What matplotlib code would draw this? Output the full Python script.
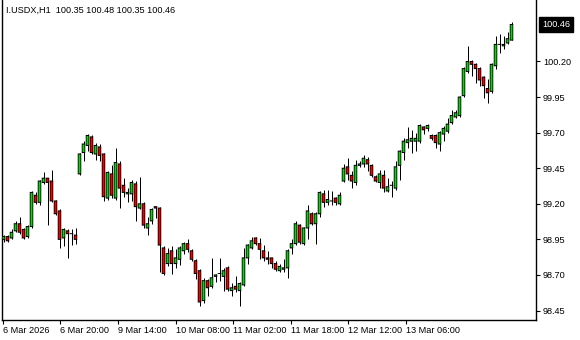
import matplotlib
matplotlib.use("Agg")
import matplotlib.pyplot as plt
import matplotlib.transforms as mtransforms
import numpy as np

plt.rcParams['font.family'] = ['Liberation Sans', 'DejaVu Sans']

# I.USDX H1 bars, oldest first (open, high, low, close)
opens = [98.95, 98.97, 98.96, 99.01, 99.06, 99.02, 98.97, 99.04, 99.26, 99.21,
         99.35, 99.38, 99.36, 99.22, 99.15, 98.96, 99.01, 98.99, 98.98, 99.41,
         99.56, 99.61, 99.67, 99.55, 99.60, 99.55, 99.24, 99.41, 99.24, 99.48,
         99.33, 99.27, 99.27, 99.34, 99.17, 99.20, 99.03, 99.08, 99.18, 99.17,
         98.89, 98.78, 98.87, 98.78, 98.81, 98.87, 98.92, 98.87, 98.80, 98.73,
         98.52, 98.66, 98.62, 98.69, 98.71, 98.69, 98.75, 98.59, 98.62, 98.59,
         98.63, 98.82, 98.89, 98.96, 98.92, 98.87, 98.82, 98.82, 98.78, 98.73,
         98.74, 98.75, 98.89, 98.92, 99.05, 98.92, 99.03, 99.13, 99.06, 99.13,
         99.27, 99.21, 99.22, 99.24, 99.20, 99.36, 99.46, 99.40, 99.35, 99.47,
         99.48, 99.51, 99.47, 99.39, 99.35, 99.40, 99.29, 99.33, 99.31, 99.47,
         99.56, 99.63, 99.64, 99.64, 99.64, 99.74, 99.73, 99.68, 99.68, 99.62,
         99.69, 99.71, 99.77, 99.81, 99.82, 99.96, 100.13, 100.20, 100.18, 100.15,
         100.09, 100.01, 99.99, 100.17, 100.32, 100.31, 100.33, 100.35]
highs = [98.98, 98.98, 99.02, 99.08, 99.11, 99.03, 99.05, 99.29, 99.28, 99.37,
         99.42, 99.38, 99.44, 99.23, 99.16, 99.03, 99.02, 99.02, 99.03, 99.56,
         99.64, 99.69, 99.68, 99.63, 99.62, 99.56, 99.43, 99.47, 99.59, 99.50,
         99.38, 99.31, 99.37, 99.36, 99.39, 99.21, 99.11, 99.17, 99.18, 99.18,
         98.90, 98.89, 98.90, 98.88, 98.90, 98.93, 98.95, 98.88, 98.81, 98.74,
         98.68, 98.67, 98.82, 98.71, 98.82, 98.75, 98.76, 98.64, 98.69, 98.65,
         98.89, 98.92, 98.97, 98.97, 98.96, 98.91, 98.87, 98.82, 98.80, 98.78,
         98.81, 98.88, 98.95, 99.08, 99.06, 99.04, 99.19, 99.14, 99.14, 99.29,
         99.30, 99.30, 99.29, 99.25, 99.28, 99.48, 99.52, 99.43, 99.51, 99.50,
         99.54, 99.53, 99.48, 99.40, 99.44, 99.44, 99.38, 99.36, 99.50, 99.58,
         99.66, 99.74, 99.72, 99.70, 99.76, 99.75, 99.76, 99.69, 99.69, 99.71,
         99.75, 99.80, 99.86, 99.86, 99.96, 100.16, 100.31, 100.21, 100.19, 100.16,
         100.10, 100.08, 100.19, 100.38, 100.39, 100.38, 100.41, 100.48]
lows = [98.93, 98.93, 98.95, 99.00, 98.99, 98.95, 98.96, 99.03, 99.20, 99.19,
        99.34, 99.05, 99.21, 99.12, 98.89, 98.90, 98.82, 98.91, 98.92, 99.40,
        99.50, 99.57, 99.55, 99.51, 99.50, 99.22, 99.23, 99.24, 99.23, 99.17,
        99.25, 99.21, 99.22, 99.08, 99.16, 99.03, 98.98, 99.06, 99.10, 98.72,
        98.70, 98.76, 98.71, 98.75, 98.77, 98.85, 98.86, 98.80, 98.67, 98.48,
        98.50, 98.55, 98.61, 98.65, 98.66, 98.59, 98.59, 98.55, 98.58, 98.48,
        98.62, 98.78, 98.88, 98.91, 98.81, 98.80, 98.78, 98.75, 98.73, 98.72,
        98.72, 98.68, 98.85, 98.91, 98.92, 98.91, 98.95, 99.05, 98.92, 99.11,
        99.18, 99.19, 99.19, 99.19, 99.19, 99.35, 99.37, 99.31, 99.33, 99.46,
        99.46, 99.43, 99.39, 99.35, 99.31, 99.28, 99.28, 99.25, 99.30, 99.37,
        99.51, 99.59, 99.56, 99.57, 99.63, 99.69, 99.71, 99.65, 99.59, 99.57,
        99.64, 99.70, 99.76, 99.80, 99.81, 99.95, 100.12, 100.10, 100.05, 100.03,
        99.94, 99.91, 99.98, 100.15, 100.26, 100.29, 100.32, 100.35]
closes = [98.97, 98.94, 99.00, 99.06, 99.00, 98.96, 99.04, 99.28, 99.21, 99.36,
          99.38, 99.35, 99.22, 99.13, 98.95, 99.02, 98.99, 98.99, 98.95, 99.55,
          99.62, 99.68, 99.56, 99.61, 99.54, 99.25, 99.42, 99.26, 99.49, 99.31,
          99.28, 99.28, 99.35, 99.18, 99.20, 99.05, 99.06, 99.16, 99.17, 98.91,
          98.71, 98.85, 98.78, 98.82, 98.89, 98.92, 98.88, 98.81, 98.71, 98.51,
          98.66, 98.61, 98.68, 98.70, 98.71, 98.73, 98.60, 98.61, 98.60, 98.64,
          98.82, 98.91, 98.94, 98.92, 98.88, 98.82, 98.81, 98.78, 98.74, 98.76,
          98.75, 98.87, 98.92, 99.06, 98.93, 99.03, 99.15, 99.06, 99.13, 99.28,
          99.21, 99.23, 99.22, 99.21, 99.26, 99.45, 99.41, 99.36, 99.47, 99.48,
          99.52, 99.48, 99.40, 99.36, 99.41, 99.31, 99.32, 99.33, 99.46, 99.57,
          99.64, 99.65, 99.66, 99.66, 99.75, 99.72, 99.75, 99.66, 99.63, 99.70,
          99.73, 99.76, 99.82, 99.84, 99.95, 100.15, 100.20, 100.18, 100.15, 100.07,
          100.03, 99.98, 100.18, 100.32, 100.32, 100.32, 100.36, 100.46]

price_ticks = [98.45, 98.70, 98.95, 99.20, 99.45, 99.70, 99.95, 100.20]
time_labels = ["6 Mar 2026", "6 Mar 20:00", "9 Mar 14:00", "10 Mar 08:00",
               "11 Mar 02:00", "11 Mar 18:00", "12 Mar 12:00", "13 Mar 06:00"]
time_label_bars = [-0.2, 14.2, 28.6, 43.0, 57.4, 71.8, 86.2, 100.6]
title = "I.USDX,H1  100.35 100.48 100.35 100.46"

UP = "#10d010"
DOWN = "#f00000"
FS = 6.6

fig = plt.figure(figsize=(5.8, 3.4), dpi=100)
ax = fig.add_axes([2 / 580, 20.5 / 340, 534 / 580, 319.5 / 340])
ax.set_xlim(-0.375, 133.125)   # 4 px per bar
ax.set_ylim(98.387, 100.632)

o = np.array(opens)
h = np.array(highs)
l = np.array(lows)
c = np.array(closes)
x = np.arange(len(o))
up = c >= o

# one screen pixel in price units
px = (100.632 - 98.387) / 319.5
lo_b = np.minimum(o, c)
hi_b = np.maximum(o, c)

ax.vlines(x, l, h, color="black", lw=0.72, zorder=2)
# black body outline, then coloured inside
outer = ax.bar(x, hi_b - lo_b + px, bottom=lo_b - px / 2, width=0.88,
               color="black", linewidth=0, zorder=3)
inner_h = np.maximum(hi_b - lo_b - px, 0)
inner = ax.bar(x, inner_h, bottom=lo_b + px / 2, width=0.48,
               color=np.where(up, UP, DOWN), linewidth=0, zorder=4)
for r in list(outer) + list(inner):
    r.set_snap(False)

ax.spines["top"].set_visible(False)
for s in ["left", "right", "bottom"]:
    ax.spines[s].set_linewidth(1.0)

ax.yaxis.tick_right()
ax.set_yticks(price_ticks)
ax.set_yticklabels([f"{p:.2f}" for p in price_ticks])
ax.tick_params(axis="y", direction="out", length=3, width=0.8, pad=2,
               labelsize=FS, colors="black")

ax.set_xticks(time_label_bars)
ax.set_xticklabels(time_labels, ha="left")
ax.tick_params(axis="x", direction="out", length=3, width=0.8, pad=2,
               labelsize=FS, colors="black")

# last price marker on the price scale
trans = mtransforms.blended_transform_factory(ax.transAxes, ax.transData)
ax.text(1.011, closes[-1], f"{closes[-1]:.2f}", transform=trans, fontsize=FS,
        color="white", va="center", ha="left",
        bbox=dict(boxstyle="square,pad=0.3", fc="black", ec="black"))

fig.text(6 / 580, 1 - 10 / 340, title, fontsize=FS, va="center", ha="left")

fig.savefig("out.png", dpi=100)
